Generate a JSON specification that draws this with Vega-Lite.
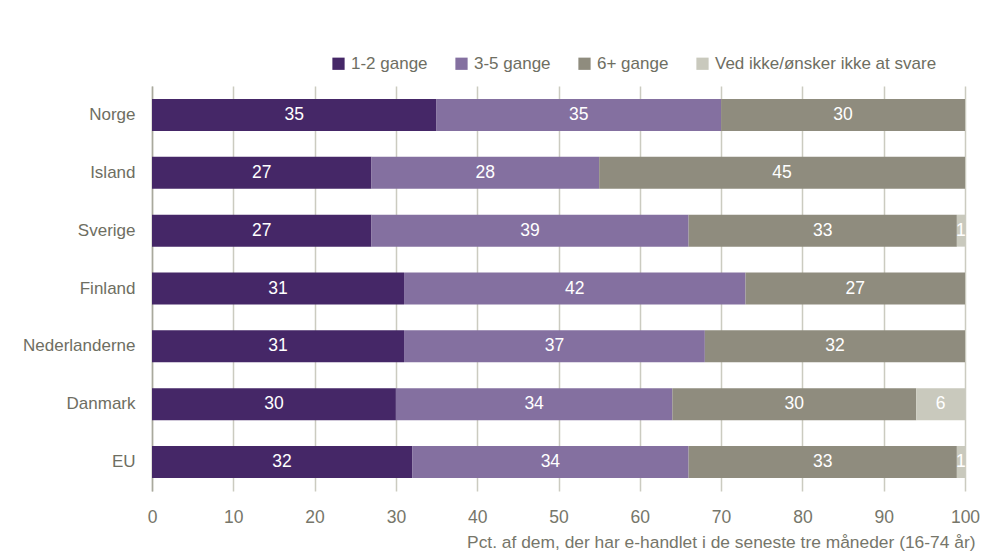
{
  "$schema": "https://vega.github.io/schema/vega-lite/v6.json",
  "autosize": {"type": "none"},
  "width": 813,
  "height": 405,
  "padding": {"left": 152, "top": 86, "right": 16, "bottom": 63},
  "background": "white",
  "config": {
    "font": "Liberation Sans",
    "view": {"stroke": null}
  },
  "data": {
    "values": [
      {"land": "Norge", "kategori": "1-2 gange", "ord": 1, "pct": 35},
      {"land": "Norge", "kategori": "3-5 gange", "ord": 2, "pct": 35},
      {"land": "Norge", "kategori": "6+ gange", "ord": 3, "pct": 30},
      {"land": "Island", "kategori": "1-2 gange", "ord": 1, "pct": 27},
      {"land": "Island", "kategori": "3-5 gange", "ord": 2, "pct": 28},
      {"land": "Island", "kategori": "6+ gange", "ord": 3, "pct": 45},
      {"land": "Sverige", "kategori": "1-2 gange", "ord": 1, "pct": 27},
      {"land": "Sverige", "kategori": "3-5 gange", "ord": 2, "pct": 39},
      {"land": "Sverige", "kategori": "6+ gange", "ord": 3, "pct": 33},
      {"land": "Sverige", "kategori": "Ved ikke/ønsker ikke at svare", "ord": 4, "pct": 1},
      {"land": "Finland", "kategori": "1-2 gange", "ord": 1, "pct": 31},
      {"land": "Finland", "kategori": "3-5 gange", "ord": 2, "pct": 42},
      {"land": "Finland", "kategori": "6+ gange", "ord": 3, "pct": 27},
      {"land": "Nederlanderne", "kategori": "1-2 gange", "ord": 1, "pct": 31},
      {"land": "Nederlanderne", "kategori": "3-5 gange", "ord": 2, "pct": 37},
      {"land": "Nederlanderne", "kategori": "6+ gange", "ord": 3, "pct": 32},
      {"land": "Danmark", "kategori": "1-2 gange", "ord": 1, "pct": 30},
      {"land": "Danmark", "kategori": "3-5 gange", "ord": 2, "pct": 34},
      {"land": "Danmark", "kategori": "6+ gange", "ord": 3, "pct": 30},
      {"land": "Danmark", "kategori": "Ved ikke/ønsker ikke at svare", "ord": 4, "pct": 6},
      {"land": "EU", "kategori": "1-2 gange", "ord": 1, "pct": 32},
      {"land": "EU", "kategori": "3-5 gange", "ord": 2, "pct": 34},
      {"land": "EU", "kategori": "6+ gange", "ord": 3, "pct": 33},
      {"land": "EU", "kategori": "Ved ikke/ønsker ikke at svare", "ord": 4, "pct": 1}
    ]
  },
  "encoding": {
    "y": {
      "field": "land",
      "type": "nominal",
      "sort": ["Norge", "Island", "Sverige", "Finland", "Nederlanderne", "Danmark", "EU"],
      "scale": {"paddingInner": 0.447, "paddingOuter": 0.225},
      "axis": {
        "title": null,
        "ticks": false,
        "domain": true,
        "domainColor": "#a9a99d",
        "domainWidth": 1.5,
        "labelFontSize": 17,
        "labelColor": "#6e6e62",
        "labelPadding": 17
      }
    },
    "x": {
      "field": "pct",
      "type": "quantitative",
      "stack": "zero",
      "scale": {"domain": [0, 100], "nice": false},
      "axis": {
        "values": [0, 10, 20, 30, 40, 50, 60, 70, 80, 90, 100],
        "grid": true,
        "gridColor": "#cbcbc0",
        "gridWidth": 1.5,
        "domain": false,
        "ticks": false,
        "labelFlush": false,
        "labelFontSize": 17.5,
        "labelColor": "#76766a",
        "labelPadding": 17,
        "title": "Pct. af dem, der har e-handlet i de seneste tre måneder (16-74 år)",
        "titleFontSize": 17.4,
        "titleFontWeight": "normal",
        "titleColor": "#76766a",
        "titleAlign": "right",
        "titleAnchor": "end",
        "titleX": 823,
        "titleY": 56,
        "titleBaseline": "alphabetic"
      }
    },
    "order": {"field": "ord", "type": "quantitative"}
  },
  "layer": [
    {
      "mark": {"type": "bar"},
      "encoding": {
        "color": {
          "field": "kategori",
          "type": "nominal",
          "scale": {
            "domain": ["1-2 gange", "3-5 gange", "6+ gange", "Ved ikke/ønsker ikke at svare"],
            "range": ["#452767", "#8470a0", "#8f8c7e", "#c9c9bd"]
          },
          "legend": {
            "title": null,
            "orient": "none",
            "direction": "horizontal",
            "legendX": 178,
            "legendY": -31,
            "symbolType": "square",
            "symbolSize": 150,
            "symbolStrokeWidth": 0,
            "labelFontSize": 17,
            "labelColor": "#6e6e62",
            "labelOffset": 4,
            "columnPadding": 25,
            "labelLimit": 400
          }
        }
      }
    },
    {
      "mark": {"type": "text", "color": "white", "fontSize": 17.5, "baseline": "middle", "align": "center"},
      "encoding": {
        "x": {"field": "pct", "type": "quantitative", "stack": "zero", "bandPosition": 0.5},
        "text": {"field": "pct", "type": "quantitative"}
      }
    }
  ]
}
